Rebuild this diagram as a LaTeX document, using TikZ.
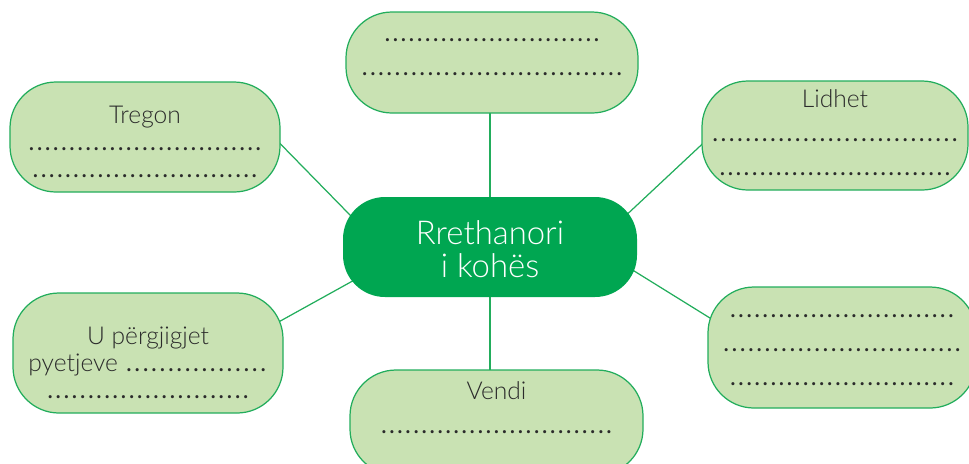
\documentclass[tikz,border=0pt]{standalone}
\usepackage{fontspec}
\setmainfont{Lato}[UprightFont={* Light}]
\newfontfamily\dotfont{Lato}
\usetikzlibrary{backgrounds}
\definecolor{soft}{HTML}{C9E2B3}
\definecolor{edge}{HTML}{22AD5C}
\definecolor{hub}{HTML}{00A651}
\definecolor{ink}{HTML}{2B2B2B}
% a row of dots to write on
\newcommand{\blank}[1]{{\dotfont\hbox to #1cm{\xleaders\hbox to 0.16cm{\hss.\hss}\hfil}}}
\begin{document}
\begin{tikzpicture}[
  bubble/.style={draw=edge,fill=soft,line width=0.7pt,rounded corners=0.92cm,align=center,
    text=ink,inner sep=0pt,text depth=0pt,font=\fontsize{14}{19.3}\selectfont},
  tight/.style={font=\fontsize{14}{15.3}\selectfont},
  hubbox/.style={fill=hub,rounded corners=0.84cm,align=center,text=white,inner sep=0pt,
    text depth=0pt,font=\fontsize{18.7}{18.7}\selectfont},
  link/.style={draw=edge,line width=0.7pt,shorten <=-3pt,shorten >=-8pt}]
  \useasboundingbox (0,0) rectangle (19.38,-9.26);
  \node[hubbox,minimum width=5.88cm,minimum height=2.0cm,text height=1.2cm] (c) at (9.80,-4.94) {Rrethanori\\i kohës};
  \node[bubble,minimum width=5.84cm,minimum height=2.02cm,text height=0.5cm] (top) at (9.84,-1.25) {\blank{4.34}\\\blank{5.26}};
  \node[bubble,tight,minimum width=5.40cm,minimum height=2.20cm,text height=1.6cm] (tregon) at (2.90,-2.74) {Tregon\\\blank{4.70}\\\blank{4.54}};
  \node[bubble,minimum width=5.32cm,minimum height=2.18cm,text height=1.58cm] (lidhet) at (16.70,-2.71) {Lidhet\\\blank{4.96}\\\blank{4.66}};
  \node[bubble,minimum width=5.36cm,minimum height=2.42cm,text height=1.5cm] (rb) at (16.84,-6.95) {\blank{4.52}\\\blank{4.80}\\\blank{4.52}};
  \node[bubble,tight,minimum width=5.40cm,minimum height=2.40cm,text height=1.8cm] (upg) at (2.96,-7.06) {U përgjigjet\\pyetjeve \blank{2.86}\\\blank{4.08}};
  \node[bubble,minimum width=5.86cm,minimum height=2.10cm,text height=0.42cm] (vendi) at (9.93,-8.45) {Vendi\\\blank{4.66}};
  \begin{scope}[on background layer]
    \draw[link] (c.north) -- (c.north |- top.south);
    \draw[link] (c.south) -- (c.south |- vendi.north);
    \draw[link] (tregon.-3) -- (c.165);
    \draw[link] (lidhet.184) -- (c.16);
    \draw[link] (upg.14) -- (c.195);
    \draw[link] (rb.167) -- (c.-10);
  \end{scope}
\end{tikzpicture}
\end{document}
